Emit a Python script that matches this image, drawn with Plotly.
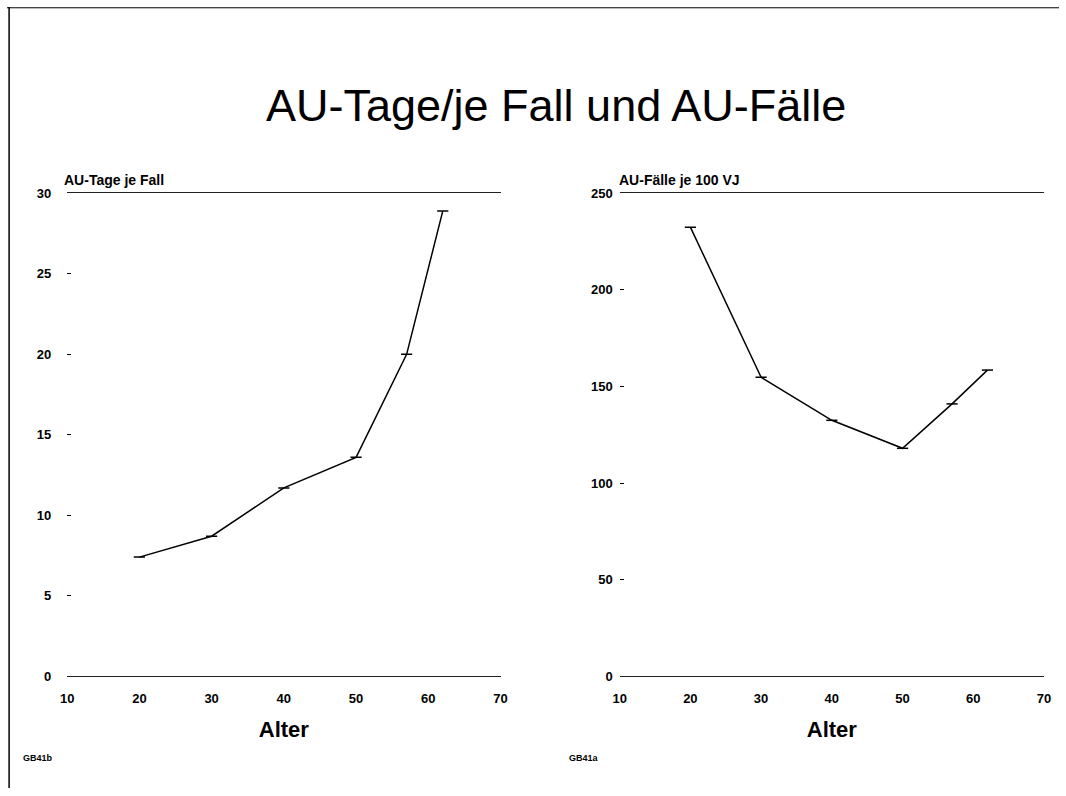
import plotly.graph_objects as go
from plotly.subplots import make_subplots

# Data
alter = [20, 30, 40, 50, 57, 62]
au_tage_je_fall = [7.4, 8.7, 11.7, 13.6, 20.0, 28.9]
au_faelle_je_100vj = [232.5, 154.8, 132.5, 118.0, 141.0, 158.5]

x_ticks = [10, 20, 30, 40, 50, 60, 70]
y_ticks_left = [0, 5, 10, 15, 20, 25, 30]
y_ticks_right = [0, 50, 100, 150, 200, 250]

title_text = "AU-Tage/je Fall und AU-Fälle"
left_label = "AU-Tage je Fall"
right_label = "AU-Fälle je 100 VJ"
x_title = "Alter"
codes = ["GB41b", "GB41a"]

W, H = 1066, 796
FONT = "Liberation Sans, Arial, sans-serif"

fig = make_subplots(rows=1, cols=2)

line_style = dict(color="black", width=1.5)
marker_style = dict(symbol="line-ew", size=8, line=dict(color="black", width=1.5))

fig.add_trace(go.Scatter(x=alter, y=au_tage_je_fall, mode="lines+markers",
                         line=line_style, marker=marker_style, showlegend=False),
              row=1, col=1)
fig.add_trace(go.Scatter(x=alter, y=au_faelle_je_100vj, mode="lines+markers",
                         line=line_style, marker=marker_style, showlegend=False),
              row=1, col=2)

# calibrate screen pixel -> layout pixel
def lx(p):
    return (p - 6.9) / 0.986

def ly(p):
    return (p - 6.6) / 0.9814

def px_x(p):
    return min(max(lx(p) / W, 0), 1)

def px_y(p):
    return min(max(1 - ly(p) / H, 0), 1)

xdom_l = [px_x(67), px_x(500)]
xdom_r = [px_x(619), px_x(1043)]
ydom = [px_y(676), px_y(193)]

tickfont = dict(family=FONT, size=13, color="black", weight="bold")
xaxis_common = dict(range=[10, 70], tickvals=x_ticks, showgrid=False, zeroline=False,
                    showline=True, mirror=True, linecolor="#222", linewidth=1,
                    ticks="", tickfont=dict(family=FONT, size=13, color="black", weight="bold"),
                    ticklabelstandoff=10,
                    title=dict(text=x_title,
                               font=dict(family=FONT, size=22, color="black", weight="bold"),
                               standoff=16))
fig.update_xaxes(domain=xdom_l, row=1, col=1, **xaxis_common)
fig.update_xaxes(domain=xdom_r, row=1, col=2, **xaxis_common)

fig.update_yaxes(domain=ydom, range=[0, 30], tickvals=y_ticks_left, showgrid=False,
                 zeroline=False, showline=False, ticks="inside", ticklen=4,
                 tickcolor="black", tickfont=tickfont, ticklabelstandoff=15,
                 row=1, col=1)
fig.update_yaxes(domain=ydom, range=[0, 250], tickvals=y_ticks_right, showgrid=False,
                 zeroline=False, showline=False, ticks="inside", ticklen=4,
                 tickcolor="black", tickfont=tickfont, ticklabelstandoff=6,
                 row=1, col=2)

annotations = [
    dict(text=title_text, x=px_x(555), y=px_y(105), xref="paper", yref="paper",
         showarrow=False, xanchor="center", yanchor="middle",
         font=dict(family=FONT, size=45, color="black")),
    dict(text=left_label, x=px_x(62), y=px_y(180), xref="paper",
         yref="paper", showarrow=False, xanchor="left", yanchor="middle",
         font=dict(family=FONT, size=14, color="black", weight="bold")),
    dict(text=right_label, x=px_x(616), y=px_y(180), xref="paper",
         yref="paper", showarrow=False, xanchor="left", yanchor="middle",
         font=dict(family=FONT, size=14, color="black", weight="bold")),
    dict(text=codes[0], x=px_x(21), y=px_y(758), xref="paper",
         yref="paper", showarrow=False, xanchor="left", yanchor="middle",
         font=dict(family=FONT, size=9, color="black", weight="bold")),
    dict(text=codes[1], x=px_x(566), y=px_y(758), xref="paper",
         yref="paper", showarrow=False, xanchor="left", yanchor="middle",
         font=dict(family=FONT, size=9, color="black", weight="bold")),
]

shapes = [
    dict(type="line", xref="paper", yref="paper", x0=0.002, x1=0.002, y0=0, y1=1,
         line=dict(color="black", width=1.5)),
    dict(type="line", xref="paper", yref="paper", x0=0, x1=1, y0=0.999, y1=0.999,
         line=dict(color="black", width=1)),
]

fig.update_layout(width=W, height=H, margin=dict(l=0, r=0, t=0, b=0),
                  paper_bgcolor="white", plot_bgcolor="white",
                  annotations=annotations, shapes=shapes,
                  font=dict(family=FONT, color="black"))

fig.write_html("out.html", config={"displayModeBar": False},
               post_script="document.body.style.margin='0';document.body.style.overflow='hidden';")
